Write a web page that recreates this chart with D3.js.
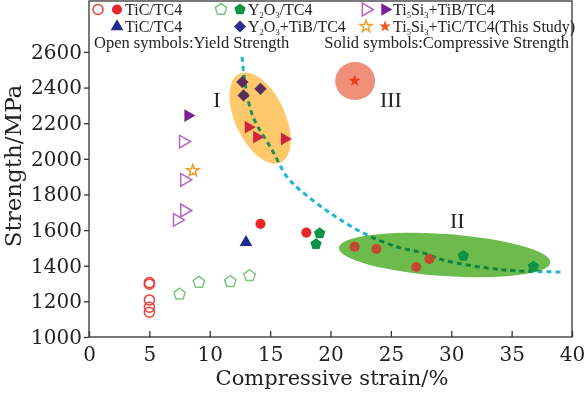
<!DOCTYPE html>
<html>
<head>
<meta charset="utf-8">
<script src="https://cdn.jsdelivr.net/npm/d3@7"></script>
<style>
body { margin: 0; background: #fff; }
svg { display: block; font-family: "Liberation Serif", "Times New Roman", serif; }
.axis text { font-family: "DejaVu Serif", serif; font-size: 20px; fill: #222; }
.axis path, .axis line { stroke: #333; stroke-width: 1.3; }
</style>
</head>
<body>
<svg id="chart" width="586" height="393"></svg>
<script>
var width = 586;
var height = 393;
var margin = {top: 1, right: 14, bottom: 56, left: 89};
var w = width - margin.left - margin.right;
var h = height - margin.top - margin.bottom;

// tick values
var xTicks = [0, 5, 10, 15, 20, 25, 30, 35, 40];
var yTicks = [1000, 1200, 1400, 1600, 1800, 2000, 2200, 2400, 2600];

// [strain %, strength MPa]
var ticYield = [[5.0, 1305], [5.0, 1296], [5.0, 1208], [5.0, 1167], [5.0, 1139]];
var ticComp = [[14.2, 1635], [18.0, 1586]];
var ticCompII = [[22.0, 1507], [23.8, 1494], [27.1, 1393], [28.2, 1438]];
var ticTriComp = [[13.0, 1532]];
var y2o3Yield = [[7.5, 1240], [9.1, 1307], [11.7, 1311], [13.3, 1344]];
var y2o3Comp = [[19.1, 1582], [18.8, 1521], [31.0, 1455], [36.8, 1395]];
var y2o3TibCompI = [[12.7, 2431], [14.2, 2393], [12.8, 2356]];
var tsTibYield = [[7.8, 2097], [7.9, 1882], [7.9, 1710], [7.3, 1657]];
var tsTibComp = [[8.2, 2243]];
var tsTibCompI = [[13.2, 2178], [13.9, 2122], [16.2, 2112]];
var tsTicYield = [[8.6, 1933]];
var tsTicCompIII = [[22.0, 2438]];

// hand drawn trade-off guide line
var guideLine = [[12.68, 2572], [12.92, 2426], [13.59, 2235], [15.16, 2050], [16.40, 1898],
    [17.48, 1825], [19.97, 1696], [22.70, 1584], [25.52, 1505], [27.67, 1472],
    [29.33, 1432], [32.97, 1387], [35.46, 1371], [39.19, 1365]];

// region centres and labels
var regionNames = ["I", "II", "III"];
var regionCentres = [[14.17, 2229], [29.45, 1460], [22.04, 2437]];
var regionLabelPos = [[10.6, 2291], [30.5, 1612], [25.0, 2291]];

// legend labels, "_n" marks a subscript
var legendLabels = ["TiC/TC4", "Y_2O_3/TC4", "Ti_5Si_3+TiB/TC4",
    "TiC/TC4", "Y_2O_3+TiB/TC4", "Ti_5Si_3+TiC/TC4(This Study)"];
var noteLabels = ["Open symbols:Yield Strength", "Solid symbols:Compressive Strength"];
var xTitle = "Compressive strain/%";
var yTitle = "Strength/MPa";

var svg = d3.select("#chart");
var plot = svg.append("g")
    .attr("transform", "translate(" + margin.left + "," + margin.top + ")");

var x = d3.scaleLinear().domain([0, 40]).range([0, w]);
var y = d3.scaleLinear().domain([1000, 2886]).range([h, 0]);

// pentagon symbol (not in d3)
var symbolPentagon = {
    draw: function(ctx, size) {
        var r = Math.sqrt(size / 2.378);
        for (var i = 0; i < 5; i++) {
            var a = -Math.PI / 2 + i * 2 * Math.PI / 5;
            if (i == 0) ctx.moveTo(r * Math.cos(a), r * Math.sin(a));
            else ctx.lineTo(r * Math.cos(a), r * Math.sin(a));
        }
        ctx.closePath();
    }
};

// marker shapes: type, size, rotation
var shapes = {
    circle: {type: d3.symbolCircle, size: 80, rot: 0},
    pentagon: {type: symbolPentagon, size: 85, rot: 0},
    triUp: {type: d3.symbolTriangle, size: 70, rot: 0},
    triRight: {type: d3.symbolTriangle, size: 70, rot: 90},
    diamond: {type: d3.symbolSquare, size: 75, rot: 45},
    star: {type: d3.symbolStar, size: 45, rot: 0}
};

function symbolPath(name) {
    return d3.symbol().type(shapes[name].type).size(shapes[name].size)();
}

// guide line, drawn first so the regions tint it
plot.append("path")
    .datum(guideLine)
    .attr("d", d3.line()
        .x(function(d) { return x(d[0]); })
        .y(function(d) { return y(d[1]); })
        .curve(d3.curveCatmullRom))
    .attr("fill", "none")
    .attr("stroke", "#22b4d4")
    .attr("stroke-width", 3)
    .attr("stroke-dasharray", "5,4");

// shaded regions
var regionFill = ["#fdc96a", "#6cbb4c", "#f0907a"];
var regionRadii = [[49, 25, 65], [106, 21, 4], [20, 19, 0]];
plot.selectAll(".region")
    .data(regionCentres)
    .enter().append("ellipse")
    .attr("class", "region")
    .attr("transform", function(d, i) {
        return "translate(" + x(d[0]) + "," + y(d[1]) + ") rotate(" + regionRadii[i][2] + ")";
    })
    .attr("rx", function(d, i) { return regionRadii[i][0]; })
    .attr("ry", function(d, i) { return regionRadii[i][1]; })
    .attr("fill", function(d, i) { return regionFill[i]; })
    .style("mix-blend-mode", "multiply");

plot.selectAll(".region-label")
    .data(regionLabelPos)
    .enter().append("text")
    .attr("class", "region-label")
    .attr("x", function(d) { return x(d[0]); })
    .attr("y", function(d) { return y(d[1]); })
    .attr("text-anchor", "middle")
    .style("font-size", "22px")
    .style("fill", "#222")
    .text(function(d, i) { return regionNames[i]; });

// series: data, shape, fill, stroke (open symbols have no fill)
var series = [
    {data: ticYield, shape: "circle", fill: "none", stroke: "#e8403a"},
    {data: y2o3Yield, shape: "pentagon", fill: "none", stroke: "#7cc47c"},
    {data: tsTibYield, shape: "triRight", fill: "none", stroke: "#b266c8"},
    {data: tsTicYield, shape: "star", fill: "none", stroke: "#f0a030"},
    {data: ticComp, shape: "circle", fill: "#e8262b"},
    {data: ticCompII, shape: "circle", fill: "#c44a2e"},
    {data: ticTriComp, shape: "triUp", fill: "#1e2a8c"},
    {data: y2o3Comp, shape: "pentagon", fill: "#0d9446"},
    {data: y2o3TibCompI, shape: "diamond", fill: "#5b2d5e"},
    {data: tsTibComp, shape: "triRight", fill: "#7a1f96"},
    {data: tsTibCompI, shape: "triRight", fill: "#d0243e"},
    {data: tsTicCompIII, shape: "star", fill: "#ea3a1c"}
];

series.forEach(function(s) {
    plot.append("g").selectAll("path")
        .data(s.data)
        .enter().append("path")
        .attr("d", symbolPath(s.shape))
        .attr("transform", function(d) {
            return "translate(" + x(d[0]) + "," + y(d[1]) + ") rotate(" + shapes[s.shape].rot + ")";
        })
        .attr("fill", s.fill)
        .attr("stroke", s.stroke || "none")
        .attr("stroke-width", s.stroke ? 1.5 : 0);
});

// frame
plot.append("rect")
    .attr("width", w)
    .attr("height", h)
    .attr("fill", "none")
    .attr("stroke", "#333")
    .attr("stroke-width", 1.3);

// axes: x ticks point inward, y ticks outward
plot.append("g")
    .attr("class", "axis")
    .attr("transform", "translate(0," + h + ")")
    .call(d3.axisBottom(x).tickValues(xTicks).tickFormat(d3.format("d"))
        .tickSize(-6).tickPadding(10).tickSizeOuter(0));

plot.append("g")
    .attr("class", "axis")
    .call(d3.axisLeft(y).tickValues(yTicks).tickFormat(d3.format("d"))
        .tickSize(5).tickPadding(2).tickSizeOuter(0));

plot.selectAll(".axis .domain").remove();

svg.append("text")
    .attr("x", 332)
    .attr("y", 385)
    .attr("text-anchor", "middle")
    .style("font-family", "DejaVu Serif, serif")
    .style("font-size", "21px")
    .style("fill", "#222")
    .text(xTitle);

svg.append("text")
    .attr("transform", "translate(21,166) rotate(-90)")
    .attr("text-anchor", "middle")
    .style("font-family", "DejaVu Serif, serif")
    .style("font-size", "23px")
    .style("fill", "#222")
    .text(yTitle);

// legend
var legendRows = [15, 32];
var legendCols = [125, 248, 393];
var legendOpen = [
    {shape: "circle", stroke: "#e8403a"}, {shape: "pentagon", stroke: "#7cc47c"}, {shape: "triRight", stroke: "#b266c8"},
    null, null, {shape: "star", stroke: "#f0a030"}
];
var legendSolid = [
    {shape: "circle", fill: "#e8262b"}, {shape: "pentagon", fill: "#0d9446"}, {shape: "triRight", fill: "#7a1f96"},
    {shape: "triUp", fill: "#1e2a8c"}, {shape: "diamond", fill: "#2b2f8f"}, {shape: "star", fill: "#f05a1e"}
];

// write a label with small subscripts
function addLabel(sel, label) {
    var parts = label.split(/_(\d)/);
    var shift = 0;
    parts.forEach(function(p, i) {
        if (p === "") return;
        if (i % 2 == 1) {
            sel.append("tspan").attr("dy", 3 - shift).style("font-size", "8.5px").text(p);
            shift = 3;
        } else {
            sel.append("tspan").attr("dy", -shift).text(p);
            shift = 0;
        }
    });
}

legendLabels.forEach(function(label, i) {
    var lx = legendCols[i % 3];
    var ly = legendRows[Math.floor(i / 3)];
    var g = svg.append("g");
    var o = legendOpen[i];
    var s = legendSolid[i];
    if (o) {
        g.append("path")
            .attr("d", symbolPath(o.shape))
            .attr("transform", "translate(" + (lx - 27) + "," + (ly - 5.5) + ") rotate(" + shapes[o.shape].rot + ")")
            .attr("fill", "none")
            .attr("stroke", o.stroke)
            .attr("stroke-width", 1.5);
    }
    g.append("path")
        .attr("d", symbolPath(s.shape))
        .attr("transform", "translate(" + (lx - 8) + "," + (ly - 5.5) + ") rotate(" + shapes[s.shape].rot + ")")
        .attr("fill", s.fill);
    var t = g.append("text")
        .attr("x", lx)
        .attr("y", ly)
        .style("font-size", "16px")
        .style("fill", "#222");
    addLabel(t, label);
});

svg.append("text")
    .attr("x", 94)
    .attr("y", 48)
    .style("font-size", "16.5px")
    .style("fill", "#222")
    .text(noteLabels[0]);

svg.append("text")
    .attr("x", 569)
    .attr("y", 48)
    .attr("text-anchor", "end")
    .style("font-size", "16.5px")
    .style("fill", "#222")
    .text(noteLabels[1]);
</script>
</body>
</html>
